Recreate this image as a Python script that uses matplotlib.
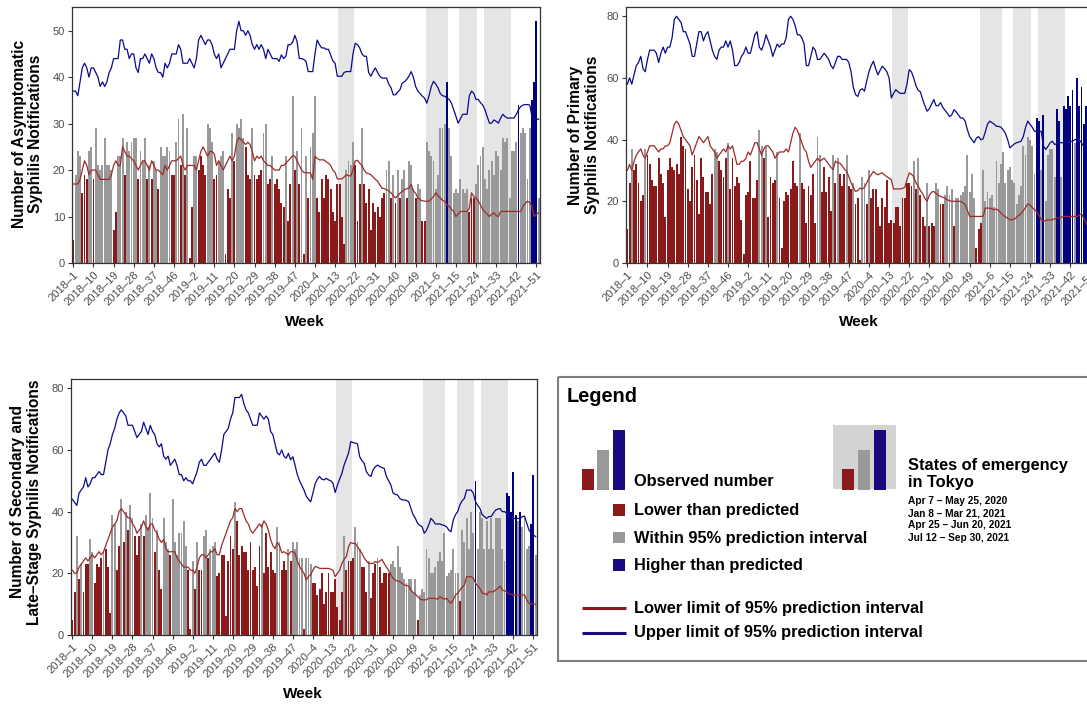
import matplotlib.pyplot as plt
from matplotlib.patches import Rectangle
import numpy as np

plt.rcParams['font.family'] = ['Liberation Sans', 'DejaVu Sans']

# week categories (2018 has 53 reporting weeks here)
weeks_per_year = {2018: 53, 2019: 52, 2020: 52, 2021: 52}
week_labels = [f"{y}\u2013{w}" for y, n in weeks_per_year.items() for w in range(1, n + 1)]

# states of emergency in Tokyo, as first and last reporting week
emergency_weeks = [("2020\u201315", "2020\u201321"), ("2021\u20132", "2021\u201311"),
                   ("2021\u201317", "2021\u201324"), ("2021\u201328", "2021\u201339")]
emergency_dates = ["Apr 7 \u2013 May 25, 2020", "Jan 8 \u2013 Mar 21, 2021",
                   "Apr 25 \u2013 Jun 20, 2021", "Jul 12 \u2013 Sep 30, 2021"]

# ---- asymptomatic ----
asym_obs = [
    5, 19, 24, 23, 15, 19, 18, 24, 25, 18, 29, 21, 20, 21, 27, 21, 21, 20,
    7, 11, 23, 23, 27, 19, 26, 24, 26, 27, 27, 18, 24, 22, 27, 18, 21, 18, 22, 20, 16, 25,
    23, 23, 25, 24, 19, 19, 26, 31, 21, 32, 19, 29, 1, 12, 23,
    23, 20, 23, 21, 19, 30, 29, 26, 18, 19, 22, 23, 24, 2, 16, 14, 28, 22, 30, 29,
    31, 27, 25, 19, 18, 29, 19, 18, 19, 20, 28, 30, 17, 18, 23, 17, 18,
    16, 13, 12, 23, 9, 17, 36, 20, 24, 17, 29, 2, 23, 14, 25, 28, 36, 14, 11, 18,
    14, 19, 18, 16, 11, 9, 17, 17, 10, 4, 20, 22, 21, 26, 21, 9, 17, 29, 17, 13,
    16, 7, 13, 11, 12, 10, 14, 15, 20, 22, 14, 19, 13, 20, 14, 18, 20, 14, 22, 21,
    16, 14, 17, 16, 9, 9,
    26, 24, 23, 22, 16, 19, 29, 29, 30, 39, 29, 23, 15, 16, 15, 18, 16, 15, 16, 11,
    14, 14, 17, 21, 23, 25, 18, 16, 20, 22, 19, 24, 23, 20, 27, 26, 27, 14, 24, 24,
    26, 34, 28, 29, 28, 18, 29, 35, 39, 52, 14]
asym_lower = [
    17, 17, 17, 18, 20, 22, 21, 19, 20, 20, 20, 19, 18, 18, 18, 18, 18, 19, 21, 22,
    21, 21, 25, 24, 23, 23, 22.5, 22, 21, 20, 21, 22, 22, 21, 20, 22, 21, 20, 20, 19.5,
    19, 21, 20, 21, 22, 22, 22, 22.5, 23, 21, 20, 21, 21, 21, 21, 20, 22, 24, 25, 24,
    23, 24, 24, 23.5, 21, 22, 21, 20, 21, 22, 23, 22, 23, 26, 27, 26.5, 26, 25.5, 26, 25.5,
    24, 22, 23, 22.5, 23, 22, 21.5, 21, 21, 20.5, 20, 20,
    20, 21, 21, 21.5, 22, 22.5, 23.1, 23, 22, 21, 20, 19.5, 19.4, 19.4, 19.4, 18, 23, 22.5, 22.2, 22.2,
    22.2, 21.8, 21.5, 21, 20, 19.5, 18.1, 18.1, 18.1, 18.5, 19, 18.8, 18.7, 20, 22, 22.1, 21.5, 21, 20, 19.4,
    19.2, 19, 18.5, 18, 17.6, 16.8, 16.1, 16, 15.8, 15.5, 15.1, 14.5, 14, 14.5, 15, 15.4, 15.8, 16, 16.1, 16.9,
    15.5, 15, 14, 13.6, 13.4, 13.3, 13.3, 13.3, 13.8, 14.3, 15.1, 14.5, 14, 13.5, 13.3, 12.5, 12.2, 11.5, 11.2, 10,
    10.5, 11.1, 11.1, 11.1, 11.1, 11.8, 15.1, 14.3, 14, 13.3, 12.5, 11.5, 11, 10.5, 10, 10.5, 10.8, 10.2, 10, 11.1,
    11.1, 11.1, 11.1, 11.1, 11.1, 11.1, 11.1, 11.1, 11.1, 12.2, 12.8, 13.3, 13, 12.2, 10, 10.5, 10.8]
asym_upper = [
    37, 37, 36, 39, 42, 43, 42, 40, 42, 42, 41, 40, 38, 39, 38, 39, 41, 42, 44, 44,
    44, 48, 48, 46, 46, 44, 45, 45, 42, 41, 44, 44, 45, 44, 43, 45, 44, 42, 41, 41,
    40, 43, 42, 43, 45, 45, 45, 47, 46, 43, 43, 43, 44, 43, 42, 44, 48, 49, 48, 47,
    48, 48, 47, 45, 44, 45, 42, 43, 44, 45, 46, 46, 46, 50, 52, 50, 50, 49, 50, 49,
    47, 46, 47, 46, 47, 46, 44, 46, 45, 44, 44, 44,
    43.4, 44.8, 44, 44.5, 47, 47, 47.5, 49, 47.7, 44, 44, 43.8, 43.4, 41.2, 41.2, 41.2, 45, 48, 47, 46.3,
    46.3, 46, 46, 44.8, 43.5, 43, 40.2, 40.2, 40.2, 41, 41.2, 41.2, 41.2, 45, 47.3, 47, 46.3, 45, 44.5, 44.5,
    41, 40.2, 41.2, 42, 41, 40.2, 39.8, 39.8, 39.8, 38.5, 37.7, 36.2, 36.2, 36.8, 37.3, 38.7, 39, 39.5, 40.2, 41.2,
    40, 38, 37, 36.5, 35.9, 35.5, 34.4, 36, 38, 39.1, 38.5, 37.7, 36.5, 36, 35.9, 35.5, 35.2, 34.4, 33, 31.6,
    30.1, 31, 32, 32, 32, 36, 37, 36.5, 35.2, 35.2, 34.5, 34, 33, 31.5, 30.1, 30.1, 30.8, 30.5, 30.1, 31.2,
    32, 31.5, 31.2, 31.2, 31.2, 31.2, 32, 33, 33.7, 34, 34.1, 34.1, 34, 31.6, 31, 30.8, 31]

# ---- primary ----
prim_obs = [
    11, 26, 37, 30, 32, 26, 20, 22, 37, 35, 32, 27, 25, 25, 34, 29, 26, 15, 30, 34,
    31, 30, 32, 29, 41, 38, 37, 24, 20, 31, 35, 27, 16, 34, 28, 23, 23, 19, 29, 37,
    36, 33, 30, 28, 34, 39, 24, 34, 25, 28, 26, 14, 3, 22, 23, 33, 21, 21, 27, 43,
    38, 34, 38, 15, 28, 26, 27, 36, 21, 5, 20, 23, 22, 24, 33, 26, 25, 42, 26, 24,
    13, 25, 22, 29, 13, 41, 35,
    23, 31, 23, 28, 17, 35, 26, 34, 29, 25, 29, 35, 25, 24, 26, 19, 21, 1, 28, 26,
    19, 30, 21, 24, 24, 18, 12, 21, 18, 27, 13, 14, 13, 18, 18, 12, 21, 21, 26, 26,
    25, 33, 24, 34, 22, 15, 12, 26, 12, 13, 12, 26, 24, 19, 19, 22, 25, 22, 24, 12,
    21, 21, 22, 23, 25, 35, 23, 29, 21, 5, 11, 13, 30, 20, 23, 21, 22, 18, 33, 26,
    32, 36, 26, 30, 31, 27, 26, 19, 22, 25, 38, 35, 41, 40, 38, 29, 47, 46, 30, 48,
    20, 35, 37, 37, 28, 50, 46, 28, 51, 50, 54, 51, 56, 39, 60, 51, 57, 45, 51, 63,
    45, 50]
prim_lower = [
    30, 32, 30, 33, 35, 36, 37, 35, 34, 36, 38, 38, 38, 37, 36, 37, 37, 38, 38, 39,
    42, 45, 46, 45, 43, 41, 40, 39, 38, 35, 37, 39, 41, 40, 39, 40, 41, 38, 37, 36,
    34, 35, 36, 37, 36, 38, 37, 38, 35, 32, 32, 33, 33, 34, 36, 35, 37, 39, 39, 37,
    35, 37, 38, 38, 37, 36, 34, 35, 36, 36, 36, 37, 36, 39, 42, 44, 43, 41, 39, 37,
    36, 33, 31, 32, 33, 34, 33,
    33.5, 34, 33, 32, 31, 30.3, 33, 32.5, 32.4, 31.5, 30.5, 29.7, 28, 26, 24.5, 23.2, 23.5, 24.3, 24, 24.5,
    26, 27.5, 28.6, 29.7, 29, 28.6, 29, 29.2, 28.5, 28, 27.5, 27, 24, 24, 24, 24, 24.2, 24.5, 27, 29.2,
    28.8, 28, 26, 25, 23.5, 22.5, 21, 20, 22, 23, 23.2, 22.5, 22, 21.6, 21.3, 21, 20.5, 20.2, 20, 20,
    20, 20, 20, 19.5, 19, 17, 15.1, 15.1, 15.1, 15.1, 15.1, 15.1, 15.1, 17.8, 17.8, 17.8, 17.5, 17.3, 17.5, 17,
    16.2, 15.5, 15, 14.5, 14, 14, 14.2, 14.8, 15.5, 16, 17, 18, 19.2, 18.8, 18, 17.3, 16.5, 15.5, 14, 13.5,
    13.8, 14, 14, 14, 14.3, 14.6, 14.6, 14.8, 15.1, 15.1, 15.1, 15.1, 15.1, 15.1, 15.1, 15.5, 16, 14.5, 13, 12,
    12, 12]
prim_upper = [
    58, 60, 58, 61, 64, 65, 67, 63, 62, 66, 69, 69, 69, 68, 65, 68, 70, 68, 70, 70,
    73, 79, 80, 79, 78, 75, 75, 73, 71, 67, 67, 71, 75, 75, 72, 74, 75, 72, 69, 67,
    66, 69, 70, 70, 72, 70, 72, 69, 64, 64, 65, 67, 68, 70, 68, 68, 71, 74, 75, 70,
    69, 71, 74, 72, 70, 67, 69, 71, 70, 71, 71, 73, 79, 80, 79, 77, 74, 74, 73, 71,
    64, 64, 67, 70, 69, 66, 66,
    67, 68, 67, 66, 64, 63, 65, 67, 67, 66, 66, 66, 65, 62, 57, 54.6, 54, 56, 56.5, 55.7,
    59, 62, 64, 65.4, 63, 61, 62.5, 63.8, 63, 62, 60, 53.5, 55, 56.2, 55.5, 55, 55, 55, 58, 62.7,
    62, 60, 57.5, 56, 55.5, 53, 51, 49.2, 50, 51.5, 53, 51, 51, 52, 50.5, 49.5, 48.6, 47.5, 48, 49.7,
    49, 48, 47, 47, 46, 43.2, 41, 40, 39, 40.5, 41, 40, 40.2, 42.5, 45, 46, 45.5, 45, 44.3, 44.3,
    44, 43.2, 42, 40, 37.3, 38, 38.6, 39, 39.2, 39.5, 41, 44, 46, 45, 44, 42.7, 42.7, 42.7, 42.7, 38,
    36.8, 37.8, 39, 39.5, 38.4, 38.7, 39, 39, 39, 39, 39, 39.3, 39.5, 40, 40, 40, 39, 37.8, 34.6, 35,
    35, 34]

# ---- secondary and late-stage ----
sec_obs = [
    5, 14, 32, 18, 23, 14, 23, 23, 31, 27, 17, 23, 22, 25, 27, 28, 22, 7, 39, 36,
    21, 29, 44, 30, 40, 34, 42, 38, 32, 26, 32, 36, 32, 39, 35, 46, 38, 27, 34, 21,
    15, 38, 30, 28, 26, 44, 30, 26, 33, 33, 37, 29, 21, 2, 24, 15, 30, 21, 21, 32,
    34, 25, 28, 29, 30, 19, 20, 26, 26, 6, 24, 32, 28, 43, 37, 26, 29, 27, 27, 21,
    30, 21, 22, 16, 29, 36, 20, 33, 22, 27, 21, 20, 35,
    30, 21, 24, 21, 28, 24, 30, 28, 30, 25, 25, 2, 25, 25, 23, 17, 17, 13, 15, 20,
    10, 14, 20, 14, 14, 18, 9, 5, 14, 32, 21, 24, 24, 25, 35, 30, 28, 22, 22, 14,
    24, 12, 20, 23, 25, 22, 17, 20, 20, 20, 23, 24, 22, 29, 22, 20, 18, 17, 18, 18,
    14, 18, 5, 13, 15, 14, 28, 25, 20, 20, 22, 24, 27, 24, 33, 19, 20, 21, 28, 20,
    20, 11, 34, 30, 38, 28, 40, 33, 50, 28, 40, 38, 28, 37, 28, 38, 28, 38, 38, 38,
    28, 24, 46, 45, 40, 53, 39, 37, 40, 35, 38, 28, 29, 36, 52, 26]
sec_lower = [
    21, 20, 20, 22, 23, 24, 25, 24, 25, 26, 25, 26, 27, 26, 27, 29, 31, 33, 35, 36,
    37, 40, 41, 40, 39, 38, 38, 36, 35, 33, 34, 35, 37, 35, 34, 36, 36, 34, 33, 31,
    30, 31, 28, 27, 27, 27, 27, 25, 24, 23, 22, 22, 22, 21, 21, 20, 22, 25, 26, 26,
    25, 26, 27, 27, 28, 26, 26, 29, 31, 33, 35, 37, 38, 41, 40, 41, 41, 39, 37, 36,
    34, 33, 34, 35, 36, 35, 37, 36, 34, 31, 29, 28, 30,
    29, 26.7, 27, 26.5, 26, 27, 27, 26.5, 24, 22.2, 21, 20, 17.8, 19, 19.5, 21, 22.2, 22, 21.6, 21.6,
    21.6, 21.6, 21.6, 21.3, 21, 18.9, 20, 21, 23.2, 24.5, 25.4, 28.6, 30, 29.7, 29.7, 28.6, 27.5, 26.5, 25, 24,
    23.2, 23.2, 23.2, 23.8, 23.5, 24, 24.5, 23.2, 22, 21, 19.5, 18.4, 17.8, 17.5, 17.3, 16.8, 16.2, 16, 15.9, 14.6,
    13.8, 13.3, 12.4, 11.8, 11.4, 11.4, 11.4, 11.9, 11.9, 11.9, 11.8, 11.6, 12.4, 12, 11.6, 11.9, 11, 10.3, 11.4, 13,
    13.5, 14.6, 15.5, 16.2, 18.9, 18.9, 18.9, 18.4, 16.8, 16, 15.1, 13.5, 13.5, 13, 14, 14, 14, 14.6, 15, 15.9,
    14.6, 14.3, 14, 13.3, 13.2, 13, 13, 13, 13, 13, 13, 11.4, 10.3, 10.1, 10, 10]
sec_upper = [
    44, 43, 42, 46, 47, 48, 51, 48, 49, 51, 51, 52, 53, 52, 52, 56, 60, 62, 65, 67,
    70, 72, 73, 72, 71, 68, 68, 68, 66, 64, 65, 66, 69, 67, 65, 68, 66, 65, 62, 61,
    62, 58, 57, 58, 55, 56, 57, 55, 52, 52, 50, 51, 50, 50, 49, 51, 53, 56, 57, 55,
    55, 56, 57, 58, 59, 57, 56, 60, 65, 66, 67, 70, 72, 77, 77, 77, 78, 75, 73, 72,
    70, 68, 68, 68, 72, 71, 70, 71, 70, 66, 65, 62, 59,
    58.4, 60, 58, 57.3, 58.9, 56.8, 57.8, 55, 52, 50, 48.5, 47, 45, 44, 43.2, 46, 49, 50.5, 51.4, 50.5,
    50.3, 50.8, 50.3, 50, 49.2, 46.2, 48.6, 50.5, 52.4, 55.1, 57, 59, 62.7, 62.4, 62.2, 62, 57.8, 56.5, 55.7, 53,
    51.9, 51.4, 53.5, 54.5, 55.1, 54.6, 54.3, 54, 51.4, 50, 48.6, 46, 45.6, 45.4, 44.3, 43.8, 43.8, 43.6, 43.2, 41,
    39, 37.8, 36.2, 35.5, 35.1, 33, 34, 35.7, 37.8, 37, 36, 36, 36, 35.7, 35.5, 35.1, 34, 33.5, 37.3, 39,
    40, 42.2, 43.5, 44.3, 47, 47, 47, 46, 43.2, 42, 41, 39, 38.4, 37.8, 38.4, 38.4, 39.5, 40.5, 40.8, 41,
    40, 40, 39.5, 38.4, 38, 37.8, 37.8, 37.8, 37.8, 38.4, 38.5, 36.2, 34, 33, 32.4, 31.9]

RED = '#8B1A1A'
GRAY = '#999999'
BLUE = '#000080'
SHADE = '#E5E5E5'

W, H = 1087, 704
fig = plt.figure(figsize=(W / 100, H / 100), dpi=100)


def px_axes(left, top, right, bottom):
    return fig.add_axes([left / W, 1 - bottom / H, (right - left) / W, (bottom - top) / H])


def draw_panel(ax, obs, lower, upper, ymax, yticks):
    x = np.arange(len(week_labels))
    obs, lower, upper = np.array(obs), np.array(lower), np.array(upper)
    colors = np.where(obs < lower, RED, np.where(obs > upper, BLUE, GRAY))
    for a, b in emergency_weeks:
        ax.axvspan(week_labels.index(a) - 0.5, week_labels.index(b) + 0.5,
                   color=SHADE, lw=0, zorder=0)
    ax.bar(x, obs, width=0.85, color=colors, lw=0, zorder=2)
    ax.plot(x, lower, color='#9E2A2A', lw=0.9, zorder=3)
    ax.plot(x, upper, color='#0A0A8A', lw=0.9, zorder=3)
    ax.set_xlim(-0.6, len(x) - 0.4)
    ax.set_ylim(0, ymax)
    ax.set_yticks(yticks)
    ticks = x[::9]
    ax.set_xticks(ticks)
    ax.set_xticklabels([week_labels[i] for i in ticks], rotation=45, ha='right',
                       rotation_mode='anchor')
    ax.tick_params(length=3, width=0.8, color='#333333', labelcolor='#4D4D4D',
                   labelsize=8, pad=2)
    for s in ax.spines.values():
        s.set_color('#333333')
        s.set_linewidth(0.9)


ax1 = px_axes(72, 7, 540, 263)
draw_panel(ax1, asym_obs, asym_lower, asym_upper, 55.1, range(0, 51, 10))
ax2 = px_axes(626, 7, 1094, 263)
draw_panel(ax2, prim_obs, prim_lower, prim_upper, 83, range(0, 81, 20))
ax3 = px_axes(71, 379, 537, 635)
draw_panel(ax3, sec_obs, sec_lower, sec_upper, 83, range(0, 81, 20))

lab = dict(fontsize=11.2, fontweight='bold', rotation=90, ha='center', va='center',
           multialignment='center', linespacing=1.1)
fig.text(27.5 / W, 1 - 134 / H, "Number of Asymptomatic\nSyphilis Notifications", **lab)
fig.text(584 / W, 1 - 135 / H, "Number of Primary\nSyphilis Notifications", **lab)
fig.text(26 / W, 1 - 502 / H, "Number of Secondary and\nLate\u2013Stage Syphilis Notifications", **lab)
wk = dict(fontsize=11, fontweight='bold', ha='center', va='center')
fig.text(305 / W, 1 - 322 / H, "Week", **wk)
fig.text(859 / W, 1 - 322 / H, "Week", **wk)
fig.text(303 / W, 1 - 694 / H, "Week", **wk)

# ---- legend panel (pixel coordinates) ----
lg = fig.add_axes([0, 0, 1, 1], zorder=-1)
lg.set_xlim(0, W)
lg.set_ylim(H, 0)
lg.axis('off')
lg.add_patch(Rectangle((558, 377), 560, 284, fill=False, ec='#7F7F7F', lw=1.5))
lg.text(567, 397, "Legend", fontsize=14.4, fontweight='bold', va='center')
for (x0, y0, c) in [(582, 469, RED), (597, 450, GRAY), (613, 430, '#1A0A80')]:
    lg.add_patch(Rectangle((x0, y0), 11.7, 489.5 - y0, color=c, lw=0))
lg.add_patch(Rectangle((833, 425), 63, 64, color='#D3D3D3', lw=0))
for (x0, y0, c) in [(842, 469, RED), (858, 450, GRAY), (874, 430, '#1A0A80')]:
    lg.add_patch(Rectangle((x0, y0), 11.7, 489.5 - y0, color=c, lw=0))
item = dict(fontsize=11.8, fontweight='bold', va='center')
lg.text(634, 482, "Observed number", **item)
for y, c, t in [(510, RED, "Lower than predicted"), (537.5, GRAY, "Within 95% prediction interval"),
                (565, '#1A0A80', "Higher than predicted")]:
    lg.add_patch(Rectangle((613, y - 6), 11.7, 11.7, color=c, lw=0))
    lg.text(634, y + 0.5, t, **item)
lg.plot([582, 626], [608, 608], color=RED, lw=2.2, solid_capstyle='butt')
lg.text(634, 608, "Lower limit of 95% prediction interval", **item)
lg.plot([582, 626], [633, 633], color='#1A0A80', lw=2.2, solid_capstyle='butt')
lg.text(634, 633, "Upper limit of 95% prediction interval", **item)
lg.text(908, 474, "States of emergency\nin Tokyo", fontsize=11.8, fontweight='bold',
        va='center', linespacing=1.2)
for k, d in enumerate(emergency_dates):
    lg.text(908, 500.5 + k * 12.5, d, fontsize=7.3, fontweight='bold', va='center')

fig.savefig("out.png", dpi=100)
